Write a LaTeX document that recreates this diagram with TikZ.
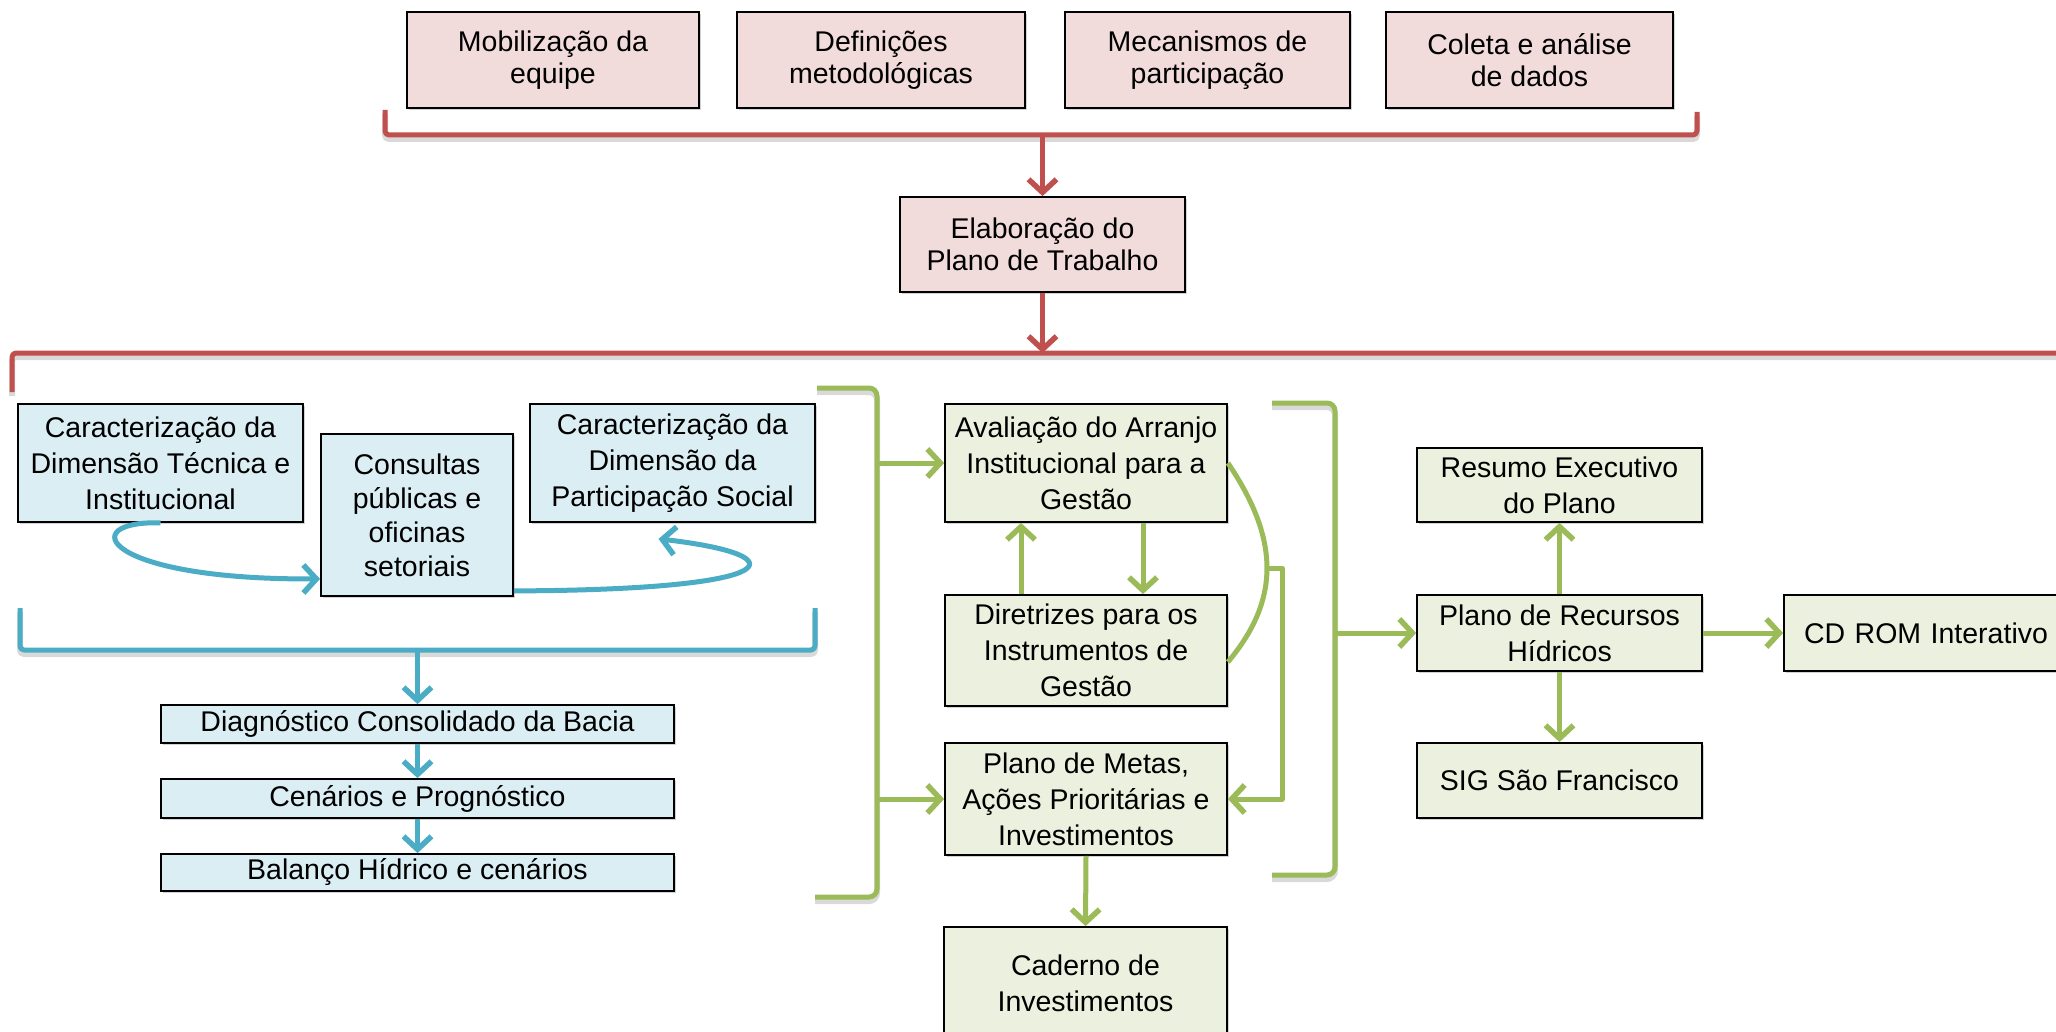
\documentclass[tikz,border=0pt]{standalone}
\usepackage{fontspec}
\setmainfont{Liberation Sans}
\usetikzlibrary{arrows.meta,shadows,calc}
\definecolor{redl}{HTML}{C0504D}
\definecolor{pinkf}{HTML}{F2DCDB}
\definecolor{bluel}{HTML}{4BACC6}
\definecolor{bluef}{HTML}{DBEEF4}
\definecolor{greenl}{HTML}{9BBB59}
\definecolor{greenf}{HTML}{EBF1DE}
\begin{document}
\begin{tikzpicture}[x=1pt,y=-1pt,
  sz/.style 2 args={minimum width=#1pt, minimum height=#2pt},
  box/.style={draw=black, line width=1.8pt, inner sep=0pt, align=center,
    font=\fontsize{28.5}{36}\selectfont,
    drop shadow={shadow xshift=1.5pt, shadow yshift=-2pt, opacity=0.35}},
  pinkbox/.style={box, fill=pinkf, font=\fontsize{28.5}{32}\selectfont},
  bluebox/.style={box, fill=bluef},
  greenbox/.style={box, fill=greenf},
  conn/.style={line width=5pt, line join=round},
  lshadow/.style={preaction={draw=black, draw opacity=0.15, line width=6pt,
    transform canvas={yshift=-4pt}}},
  redline/.style={conn, draw=redl},
  blueline/.style={conn, draw=bluel},
  greenline/.style={conn, draw=greenl},
  arr/.style={-{Straight Barb[length=13pt,width=28pt,line width=5.5pt]}}
]
\useasboundingbox (0,0) rectangle (2056,1032);
\clip (0,0) rectangle (2056,1032);
\fill[white] (0,0) rectangle (2056,1032);

% top pink boxes
\node[pinkbox, sz={292}{96}] (mob) at (553,60) {Mobilização da\\equipe};
\node[pinkbox, sz={288}{96}] (def) at (881,60) {Definições\\metodológicas};
\node[pinkbox, sz={285}{96}] (mec) at (1207.5,60) {Mecanismos de\\participação};
\node[pinkbox, sz={287}{96}] (col) at (1529.5,60) {Coleta e análise\\de dados};
\node[pinkbox, sz={285}{95}] (elab) at (1042.5,244.5) {Elaboração do\\Plano de Trabalho};

% red brackets
\draw[redline, lshadow, rounded corners=4pt] (385,110) -- (385,135) -- (1697,135) -- (1697,112);
\coordinate (rb1) at (elab.north |- 0,135);
\draw[redline, arr] (rb1) -- (elab.north);
\coordinate (rb2) at (elab.south |- 0,353);
\draw[redline, arr] (elab.south) -- (rb2);
\draw[redline, lshadow, rounded corners=4pt] (12,392) -- (12,353) -- (2062,353) -- (2062,392);

% blue boxes
\node[bluebox, sz={285}{118}] (tec) at (160.5,463) {Caracterização da\\Dimensão Técnica e\\Institucional};
\node[bluebox, sz={192}{162}, font=\fontsize{28.5}{34}\selectfont] (con) at (417,515) {Consultas\\públicas e\\oficinas\\setoriais};
\node[bluebox, sz={285}{118}] (par) at (672.5,463) {Caracterização da\\Dimensão da\\Participação Social};
\node[bluebox, sz={513}{38}] (diag) at (417.5,724) {Diagnóstico Consolidado da Bacia};
\node[bluebox, sz={513}{39}] (cen) at (417.5,798.5) {Cenários e Prognóstico};
\node[bluebox, sz={513}{37}] (bal) at (417.5,872.5) {Balanço Hídrico e cenários};

\draw[blueline, arr] (tec.south) .. controls (75,520) and (100,580) .. ([yshift=18pt]con.south west);
\draw[blueline, arr] ([yshift=6pt]con.south east) .. controls (790,590) and (800,555) .. ([xshift=-14pt,yshift=-16pt]par.south);

\draw[blueline, lshadow, rounded corners=4pt] (20,608) -- (20,650) -- (815,650) -- (815,608);
\coordinate (bb) at (diag.north |- 0,650);
\draw[blueline, arr] (bb) -- (diag.north);
\draw[blueline, arr] (diag.south) -- (cen.north);
\draw[blueline, arr] (cen.south) -- (bal.north);

% green boxes
\node[greenbox, sz={282}{118}] (ava) at (1086,463) {Avaliação do Arranjo\\Institucional para a\\Gestão};
\node[greenbox, sz={282}{111}] (dir) at (1086,650.5) {Diretrizes para os\\Instrumentos de\\Gestão};
\node[greenbox, sz={282}{112}] (met) at (1086,799) {Plano de Metas,\\Ações Prioritárias e\\Investimentos};
\node[greenbox, sz={283}{112}] (cad) at (1085.5,983) {Caderno de\\Investimentos};
\node[greenbox, sz={285}{74}] (res) at (1559.5,485) {Resumo Executivo\\do Plano};
\node[greenbox, sz={285}{76}] (plr) at (1559.5,633) {Plano de Recursos\\Hídricos};
\node[greenbox, sz={285}{75}] (sig) at (1559.5,780.5) {SIG São Francisco};
\node[greenbox, sz={300}{76}, text width=270pt] (cd) at (1934,633) {\hspace*{-16pt}CD ROM Interativo};

% green connectors
\draw[greenline, lshadow, rounded corners=8pt] (817,388) -- (877,388) -- (877,897) -- (815,897);
\draw[greenline, arr] (ava.west -| 877,0) -- (ava.west);
\draw[greenline, arr] (met.west -| 877,0) -- (met.west);
\draw[greenline, arr] ([xshift=-65pt]dir.north) -- ([xshift=-65pt]ava.south);
\draw[greenline, arr] ([xshift=57pt]ava.south) -- ([xshift=57pt]dir.north);
\draw[greenline] (ava.east) .. controls (1280,540) and (1280,600) .. ([yshift=-11.5pt]dir.east);
\coordinate (gm) at (1266.5,568);
\draw[greenline, arr] (gm) -- (gm -| 1282,0) -- (met.east -| 1282,0) -- (met.east);
\draw[greenline, arr] (met.south) -- (cad.north);

\draw[greenline, lshadow, rounded corners=8pt] (1272,403) -- (1335,403) -- (1335,875) -- (1272,875);
\draw[greenline, arr] (plr.west -| 1335,0) -- (plr.west);
\draw[greenline, arr] (plr.north) -- (res.south);
\draw[greenline, arr] (plr.south) -- (sig.north);
\draw[greenline, arr] (plr.east) -- (cd.west);
\end{tikzpicture}
\end{document}
